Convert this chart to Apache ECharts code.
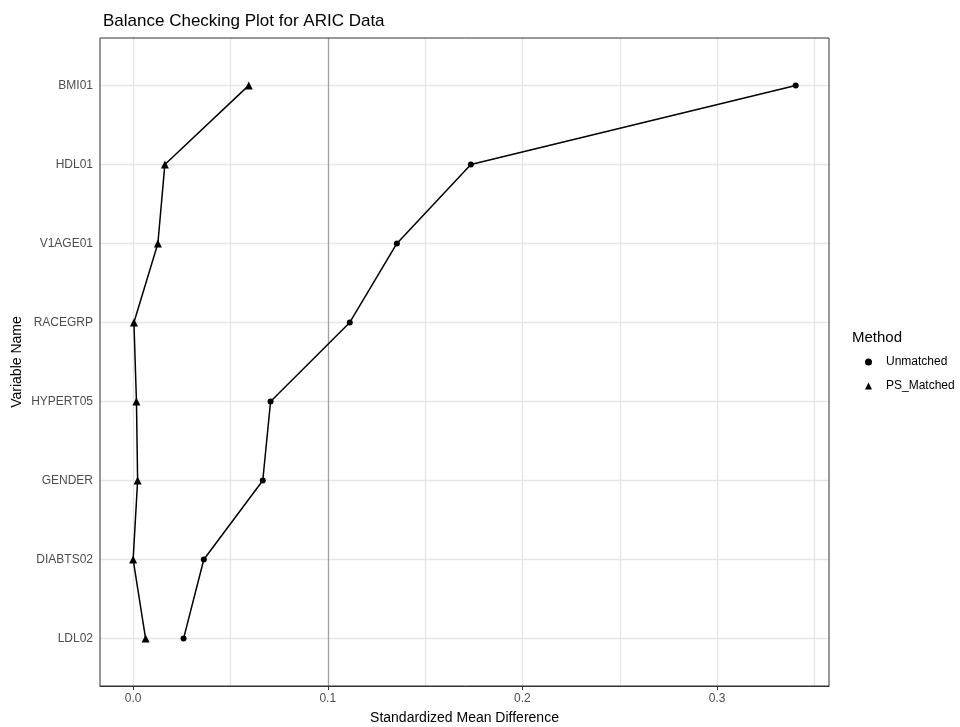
<!DOCTYPE html>
<html><head><meta charset="utf-8">
<script src="https://cdn.jsdelivr.net/npm/echarts@6/dist/echarts.min.js"></script>
<style>html,body{margin:0;padding:0;background:#fff}#c{width:960px;height:727px}</style>
</head><body><div id="c"></div>
<script>
const categories = ['LDL02','DIABTS02','GENDER','HYPERT05','RACEGRP','V1AGE01','HDL01','BMI01'];
const unmatched = [0.0259, 0.0363, 0.0666, 0.0706, 0.1113, 0.1355, 0.1735, 0.3404];
const psMatched = [0.0064, 0.0000, 0.0023, 0.0017, 0.0004, 0.0127, 0.0163, 0.0594];
const xTickLabels = [0, 0.1, 0.2, 0.3];
const xGridValues = [0, 0.05, 0.1, 0.15, 0.2, 0.25, 0.3, 0.35];
const yTickValues = [1, 2, 3, 4, 5, 6, 7, 8];
const refLine = 0.1;

const FONT = 'Liberation Sans, Arial, sans-serif';
const chart = echarts.init(document.getElementById('c'));
const toPts = arr => arr.map((v, i) => [v, i + 1]);

chart.setOption({
  animation: false,
  backgroundColor: '#fff',
  title: {
    text: 'Balance Checking Plot for ARIC Data',
    left: 98, top: 8,
    textStyle: { fontFamily: FONT, fontSize: 17, fontWeight: 'normal', color: '#000' }
  },
  grid: {
    left: 100, right: 131, top: 38, bottom: 41,
    outerBoundsMode: 'none', containLabel: false,
    show: true, borderColor: '#333', borderWidth: 1, backgroundColor: 'transparent', z: 10
  },
  legend: {
    orient: 'vertical', left: 860, top: 351, itemGap: 12,
    itemWidth: 7, itemHeight: 7,
    textStyle: { fontFamily: FONT, fontSize: 12, color: '#000', padding: [0, 0, 0, 9] },
    data: [
      { name: 'Unmatched', icon: 'circle' },
      { name: 'PS_Matched', icon: 'triangle' }
    ]
  },
  graphic: [{
    type: 'text', left: 852, top: 330,
    style: { text: 'Method', font: '15px ' + FONT, fill: '#000' }
  }],
  xAxis: {
    type: 'value', min: -0.01703, max: 0.3575,
    name: 'Standardized Mean Difference', nameLocation: 'middle', nameGap: 25, nameMoveOverlap: false,
    nameTextStyle: { fontFamily: FONT, fontSize: 14, color: '#000' },
    axisLine: { show: true, lineStyle: { color: '#333', width: 1 } },
    axisTick: { show: true, customValues: xTickLabels, length: 4, lineStyle: { color: '#333', width: 1 } },
    axisLabel: { customValues: xTickLabels, fontFamily: FONT, fontSize: 12, color: '#4d4d4d', margin: 7,
      formatter: v => (+v).toFixed(1) },
    splitLine: { show: false }
  },
  yAxis: {
    type: 'value', min: 0.4, max: 8.6,
    name: 'Variable Name', nameLocation: 'middle', nameGap: 76, nameRotate: 90, nameMoveOverlap: false,
    nameTextStyle: { fontFamily: FONT, fontSize: 14, color: '#000' },
    axisLine: { show: true, lineStyle: { color: '#333', width: 1 } },
    axisTick: { show: true, customValues: yTickValues, length: 4, lineStyle: { color: '#333', width: 1 } },
    axisLabel: { customValues: yTickValues, fontFamily: FONT, fontSize: 12, color: '#4d4d4d', margin: 7,
      formatter: v => categories[Math.round(v) - 1] || '' },
    splitLine: { show: false }
  },
  series: [
    {
      name: 'grid', type: 'line', data: [], z: 0, silent: true,
      markLine: {
        silent: true, symbol: 'none', animation: false, label: { show: false },
        lineStyle: { color: '#e6e6e6', width: 1.4, type: 'solid' },
        data: xGridValues.map(v => ({ xAxis: v })).concat(yTickValues.map(v => ({ yAxis: v })))
      }
    },
    {
      name: 'ref', type: 'line', data: [], z: 1, silent: true,
      markLine: {
        silent: true, symbol: 'none', animation: false, label: { show: false },
        lineStyle: { color: '#a0a0a0', width: 1.2, type: 'solid' },
        data: [{ xAxis: refLine }]
      }
    },
    {
      name: 'Unmatched', type: 'line', data: toPts(unmatched), z: 5,
      symbol: 'circle', symbolSize: 6,
      lineStyle: { color: '#000', width: 1.5 },
      itemStyle: { color: '#000' }
    },
    {
      name: 'PS_Matched', type: 'line', data: toPts(psMatched), z: 5,
      symbol: 'triangle', symbolSize: 8,
      lineStyle: { color: '#000', width: 1.5 },
      itemStyle: { color: '#000' }
    }
  ]
});
</script>
</body></html>
